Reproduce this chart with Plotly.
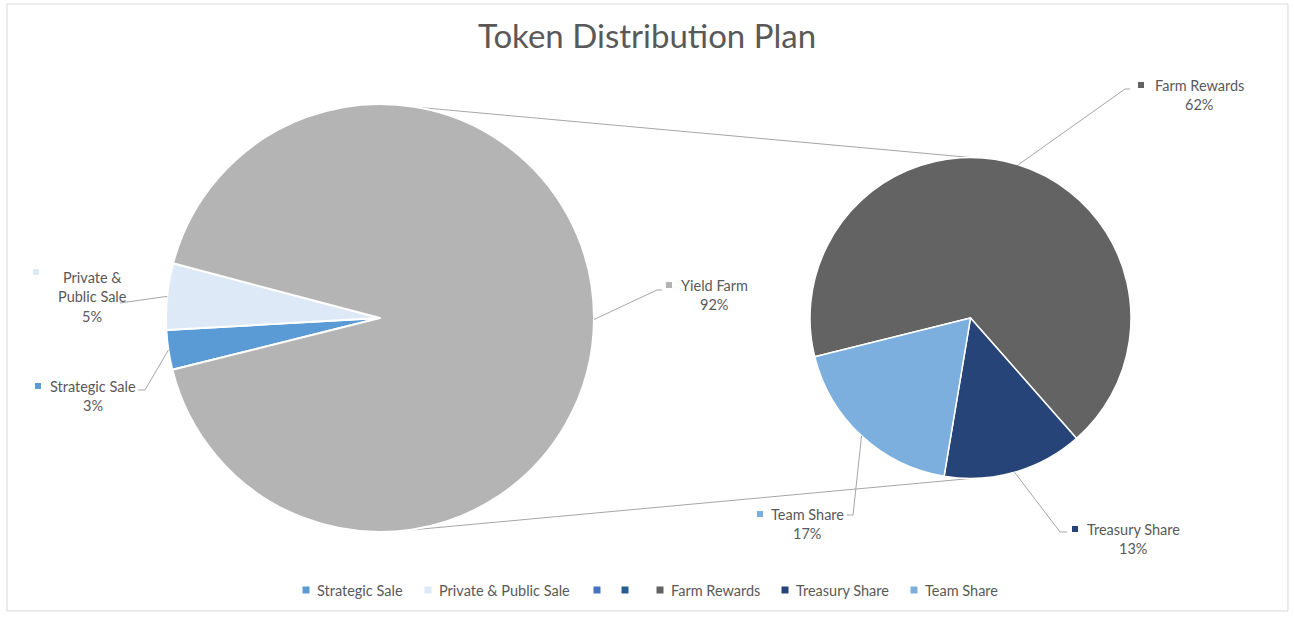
import math
import plotly.graph_objects as go

# ---------------- data ----------------
title_text = "Token Distribution Plan"

main_labels = ["Strategic Sale", "Private & Public Sale", "Yield Farm"]
main_values = [3, 5, 92]
main_colors = ["#5b9bd5", "#dde9f6", "#b4b4b4"]

sub_labels = ["Farm Rewards", "Treasury Share", "Team Share"]
sub_values = [62, 13, 17]
sub_colors = ["#636363", "#264478", "#7cafdd"]

legend_names = ["Strategic Sale", "Private & Public Sale", "", "",
                "Farm Rewards", "Treasury Share", "Team Share"]
legend_colors = ["#5b9bd5", "#dde9f6", "#4472c4", "#255e91",
                 "#636363", "#264478", "#7cafdd"]

# ---------------- layout geometry (pixels) ----------------
W, H = 1294, 620
FONT = "Lato, 'Open Sans', sans-serif"
FS = 14.5
TXT = "#595959"
LINE = "#a6a6a6"
MAIN = dict(cx=380.0, cy=318.0, r=214.0)
SUB = dict(cx=970.5, cy=318.0, r=160.5)
ROT = 256  # start angle (clockwise from 12 o'clock)

LABEL_LAYOUT = {
    "Strategic Sale": dict(tx=93, ty=386, sq=(38, 386), tail=[(145, 390), (138, 390)],
                           lines=["Strategic Sale"]),
    "Private & Public Sale": dict(tx=92, ty=277, sq=(36, 272), tail=[(120, 303)],
                                  lines=["Private &", "Public Sale"]),
    "Yield Farm": dict(tx=714, ty=285, sq=(669, 285), tail=[(657, 290), (662, 290)],
                       lines=["Yield Farm"]),
    "Farm Rewards": dict(tx=1199, ty=85, sq=(1141, 85), tail=[(1125, 89), (1130, 89)],
                         lines=["Farm Rewards"]),
    "Treasury Share": dict(tx=1133, ty=529, sq=(1075, 529), tail=[(1060, 532), (1067, 532)],
                           lines=["Treasury Share"]),
    "Team Share": dict(tx=807, ty=514, sq=(760, 514), tail=[(853, 515), (847, 515)],
                       lines=["Team Share"]),
}
LEGEND_Y = 590
LEGEND_SQ_X = [306, 428, 597, 625, 660, 785, 914]


def fx(x):
    return x / W


def fy(y):
    return 1 - y / H


def domain(g):
    return dict(x=[fx(g["cx"] - g["r"]), fx(g["cx"] + g["r"])],
                y=[fy(g["cy"] + g["r"]), fy(g["cy"] - g["r"])])


def circle_pt(g, clock_deg):
    a = math.radians(clock_deg)
    return (g["cx"] + g["r"] * math.sin(a), g["cy"] - g["r"] * math.cos(a))


def mid_points(values, g, rot):
    total = sum(values)
    cum = 0
    pts = []
    for v in values:
        pts.append(circle_pt(g, rot + 360.0 * (cum + v / 2.0) / total))
        cum += v
    return pts


def path_str(points):
    return "M " + " L ".join(f"{fx(x):.5f},{fy(y):.5f}" for x, y in points)


grand_total = sum(main_values)

fig = go.Figure()
fig.add_trace(go.Pie(
    labels=main_labels, values=main_values, sort=False, direction="clockwise",
    rotation=ROT, domain=domain(MAIN), textinfo="none", showlegend=False,
    marker=dict(colors=main_colors, line=dict(color="white", width=2)),
    hovertemplate="%{label}: %{value}%<extra></extra>"))
fig.add_trace(go.Pie(
    labels=sub_labels, values=sub_values, sort=False, direction="clockwise",
    rotation=ROT, domain=domain(SUB), textinfo="none", showlegend=False,
    marker=dict(colors=sub_colors, line=dict(color="white", width=1.5)),
    hovertemplate="%{label}: %{value}%<extra></extra>"))

shapes = []
annotations = []

# chart border
shapes.append(dict(type="rect", xref="paper", yref="paper",
                   x0=fx(7), x1=fx(1288), y0=fy(611), y1=fy(4),
                   line=dict(color="#d9d9d9", width=1), fillcolor="rgba(0,0,0,0)"))

# pie-of-pie connector lines
top_l = circle_pt(MAIN, 90 - 80)
bot_l = circle_pt(MAIN, 90 + 86)
top_r = circle_pt(SUB, 0)
bot_r = circle_pt(SUB, 180)
for a, b in [(top_l, top_r), (bot_l, bot_r)]:
    shapes.append(dict(type="path", xref="paper", yref="paper", path=path_str([a, b]),
                       line=dict(color=LINE, width=1), layer="below"))

# data labels with leader lines
for labels, values, colors, g in [(main_labels, main_values, main_colors, MAIN),
                                  (sub_labels, sub_values, sub_colors, SUB)]:
    mids = mid_points(values, g, ROT)
    for lab, v, col, mp in zip(labels, values, colors, mids):
        spec = LABEL_LAYOUT[lab]
        shapes.append(dict(type="path", xref="paper", yref="paper",
                           path=path_str([mp] + spec["tail"]),
                           line=dict(color=LINE, width=1)))
        sx, sy = spec["sq"]
        shapes.append(dict(type="rect", xref="paper", yref="paper",
                           x0=fx(sx - 3), x1=fx(sx + 3), y0=fy(sy + 3), y1=fy(sy - 3),
                           fillcolor=col, line=dict(width=0)))
        pct = f"{round(100 * v / grand_total)}%"
        for i, line in enumerate(spec["lines"] + [pct]):
            annotations.append(dict(x=fx(spec["tx"]), y=fy(spec["ty"] + i * 19.5),
                                    xref="paper", yref="paper", text=line,
                                    showarrow=False, xanchor="center", yanchor="middle",
                                    font=dict(family=FONT, size=FS, color=TXT)))

# legend (bottom)
for name, col, sx in zip(legend_names, legend_colors, LEGEND_SQ_X):
    shapes.append(dict(type="rect", xref="paper", yref="paper",
                       x0=fx(sx - 3.5), x1=fx(sx + 3.5),
                       y0=fy(LEGEND_Y + 3.5), y1=fy(LEGEND_Y - 3.5),
                       fillcolor=col, line=dict(width=0)))
    if name:
        annotations.append(dict(x=fx(sx + 9), y=fy(LEGEND_Y), xref="paper", yref="paper",
                                text=name, showarrow=False, xanchor="left",
                                yanchor="middle",
                                font=dict(family=FONT, size=FS, color=TXT)))

fig.update_layout(
    width=W, height=H,
    margin=dict(l=0, r=0, t=0, b=0),
    paper_bgcolor="white", plot_bgcolor="white",
    title=dict(text=title_text, x=0.5, xanchor="center", y=fy(36), yanchor="middle",
               yref="container", font=dict(family=FONT, size=33, color=TXT)),
    shapes=shapes, annotations=annotations, showlegend=False,
)

fig.write_html("out.html",
               config={"displayModeBar": False},
               post_script="document.body.style.margin='0px';"
                           "document.body.style.overflow='hidden';")
